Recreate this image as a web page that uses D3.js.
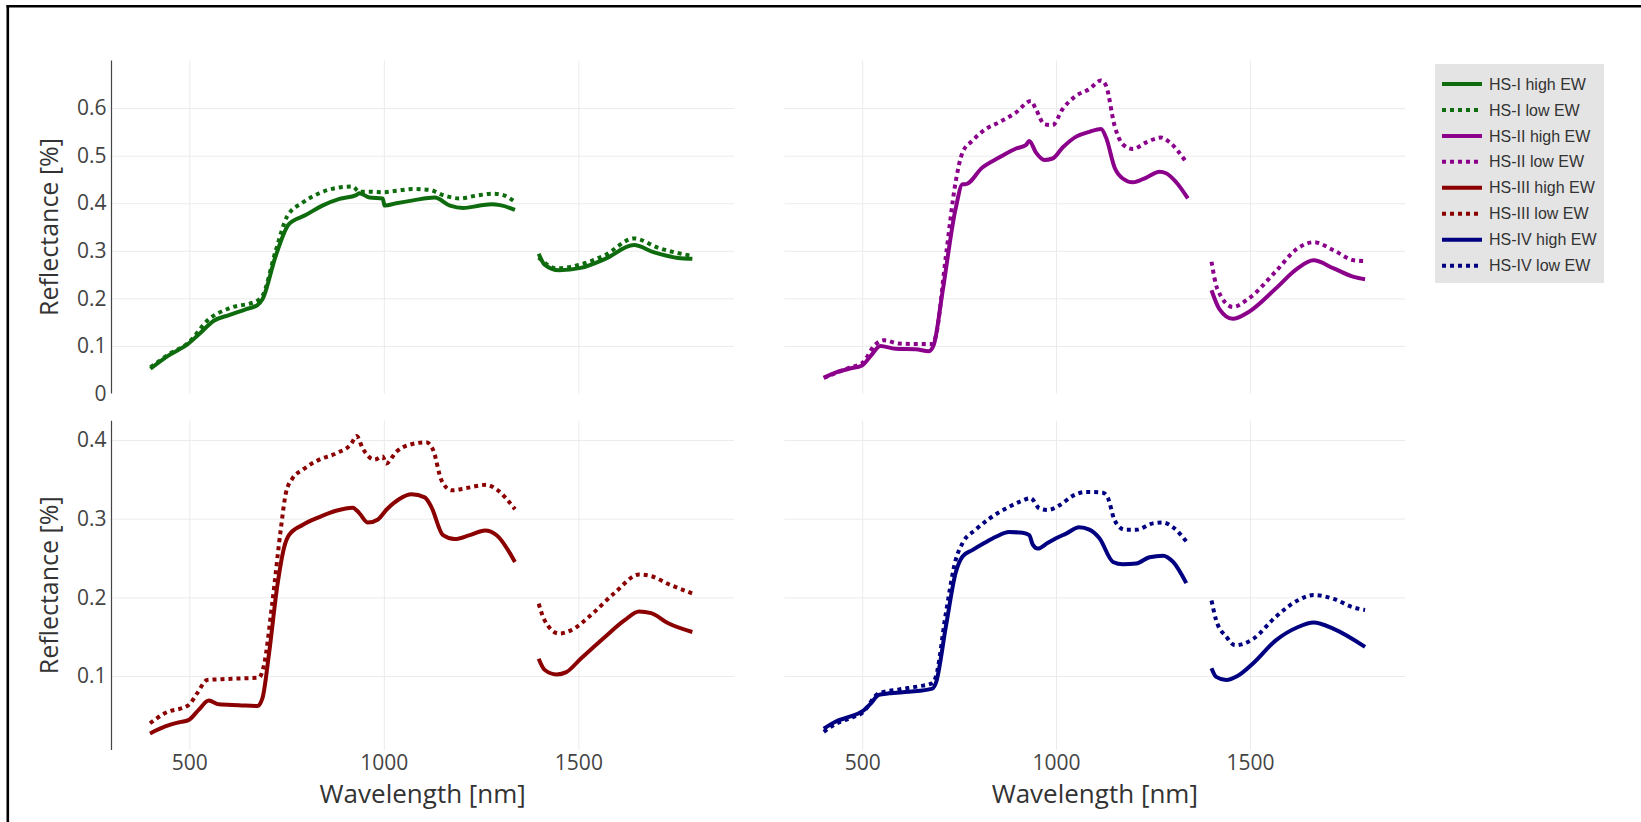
<!DOCTYPE html>
<html>
<head>
<meta charset="utf-8">
<script src="https://cdn.jsdelivr.net/npm/d3@7"></script>
<style>
  body { margin: 0; background: #fff; }
  svg { display: block; }
</style>
</head>
<body>
<div id="chart"></div>
<script>
// wavelength ticks and reflectance ticks
const xTicks = [500, 1000, 1500];
const yTicksTop = [0, 0.1, 0.2, 0.3, 0.4, 0.5, 0.6];
const yTicksBottom = [0.1, 0.2, 0.3, 0.4];

const seriesLabels = [
  'HS-I high EW', 'HS-I low EW', 'HS-II high EW', 'HS-II low EW',
  'HS-III high EW', 'HS-III low EW', 'HS-IV high EW', 'HS-IV low EW'
];
const seriesColors = ['#0e6b0e', '#0e6b0e', '#8b008b', '#8b008b', '#8b0000', '#8b0000', '#000080', '#000080'];

// [wavelength nm, reflectance]; null = water band gap
const hs1High = [
  [400, 0.052], [447, 0.080], [498, 0.105], [524, 0.124], [563, 0.153], [602, 0.165], [645, 0.177],
  [675, 0.186], [688, 0.198], [722, 0.289], [756, 0.356], [799, 0.375], [842, 0.395], [886, 0.409],
  [929, 0.417], [937, 0.421], [963, 0.412], [997, 0.410], [1002, 0.395], [1032, 0.400], [1075, 0.406],
  [1131, 0.412], [1170, 0.395], [1204, 0.390], [1247, 0.395], [1277, 0.398], [1299, 0.396], [1337, 0.386],
  [1370, null],
  [1398, 0.294], [1413, 0.271], [1450, 0.259], [1506, 0.264], [1569, 0.283], [1643, 0.312], [1693, 0.297],
  [1756, 0.285], [1793, 0.283]
];
const hs1Low = [
  [400, 0.055], [447, 0.082], [498, 0.107], [550, 0.156], [602, 0.179], [675, 0.195], [688, 0.205],
  [722, 0.300], [752, 0.373], [791, 0.401], [834, 0.421], [877, 0.432], [920, 0.435], [937, 0.424],
  [963, 0.424], [997, 0.423], [1032, 0.426], [1075, 0.430], [1118, 0.428], [1152, 0.417], [1195, 0.410],
  [1238, 0.416], [1281, 0.420], [1307, 0.417], [1337, 0.403],
  [1370, null],
  [1398, 0.286], [1444, 0.263], [1500, 0.270], [1569, 0.291], [1643, 0.326], [1706, 0.306], [1793, 0.289]
];
const hs2High = [
  [401, 0.033], [431, 0.044], [466, 0.052], [500, 0.059], [522, 0.079], [547, 0.100], [586, 0.094],
  [638, 0.093], [672, 0.089], [685, 0.103], [707, 0.212], [741, 0.388], [759, 0.440], [767, 0.440],
  [810, 0.475], [853, 0.496], [897, 0.515], [922, 0.522], [931, 0.531], [948, 0.507], [970, 0.491],
  [991, 0.494], [1017, 0.517], [1052, 0.540], [1086, 0.550], [1116, 0.556], [1129, 0.538], [1151, 0.475],
  [1172, 0.452], [1198, 0.444], [1233, 0.454], [1267, 0.466], [1284, 0.463], [1310, 0.444], [1340, 0.410],
  [1370, null],
  [1401, 0.217], [1421, 0.178], [1456, 0.157], [1496, 0.171], [1566, 0.220], [1623, 0.263], [1664, 0.280],
  [1716, 0.263], [1768, 0.245], [1797, 0.240]
];
const hs2Low = [
  [401, 0.033], [466, 0.054], [500, 0.064], [534, 0.103], [556, 0.112], [595, 0.105], [638, 0.104],
  [681, 0.104], [690, 0.121], [716, 0.289], [741, 0.444], [759, 0.507], [784, 0.531], [819, 0.556],
  [853, 0.570], [897, 0.591], [935, 0.615], [948, 0.598], [970, 0.566], [991, 0.564], [1017, 0.598],
  [1052, 0.626], [1086, 0.640], [1116, 0.658], [1129, 0.647], [1151, 0.563], [1172, 0.524], [1198, 0.514],
  [1233, 0.528], [1271, 0.538], [1293, 0.528], [1336, 0.486],
  [1370, null],
  [1401, 0.277], [1416, 0.220], [1456, 0.182], [1496, 0.199], [1566, 0.256], [1623, 0.305], [1664, 0.318],
  [1716, 0.301], [1768, 0.280], [1802, 0.278]
];
const hs3High = [
  [399, 0.027], [438, 0.036], [472, 0.041], [498, 0.044], [524, 0.057], [550, 0.069], [576, 0.064],
  [627, 0.063], [675, 0.062], [688, 0.072], [705, 0.129], [726, 0.214], [744, 0.264], [756, 0.279],
  [791, 0.292], [834, 0.302], [877, 0.310], [920, 0.314], [937, 0.307], [959, 0.295], [985, 0.299],
  [1006, 0.311], [1040, 0.325], [1071, 0.331], [1105, 0.327], [1122, 0.315], [1152, 0.279], [1182, 0.274],
  [1221, 0.279], [1260, 0.285], [1290, 0.279], [1337, 0.245],
  [1370, null],
  [1398, 0.122], [1413, 0.108], [1444, 0.102], [1469, 0.105], [1506, 0.122], [1569, 0.150], [1619, 0.171],
  [1656, 0.182], [1687, 0.180], [1731, 0.167], [1793, 0.156]
];
const hs3Low = [
  [399, 0.040], [438, 0.053], [498, 0.063], [520, 0.078], [546, 0.095], [584, 0.096], [636, 0.097],
  [679, 0.098], [692, 0.114], [713, 0.192], [735, 0.286], [748, 0.332], [765, 0.351], [791, 0.362],
  [834, 0.375], [877, 0.383], [916, 0.395], [930, 0.405], [946, 0.389], [976, 0.375], [997, 0.379],
  [1006, 0.370], [1032, 0.385], [1066, 0.394], [1109, 0.397], [1127, 0.387], [1148, 0.349], [1174, 0.336],
  [1213, 0.339], [1264, 0.343], [1290, 0.337], [1337, 0.312],
  [1370, null],
  [1398, 0.192], [1413, 0.171], [1450, 0.154], [1481, 0.158], [1531, 0.177], [1594, 0.206], [1656, 0.229],
  [1687, 0.227], [1731, 0.217], [1793, 0.205]
];
const hs4High = [
  [401, 0.033], [431, 0.042], [466, 0.048], [500, 0.055], [522, 0.065], [543, 0.076], [569, 0.078],
  [621, 0.080], [681, 0.084], [690, 0.091], [716, 0.163], [741, 0.231], [759, 0.252], [784, 0.260],
  [815, 0.269], [845, 0.277], [879, 0.283], [914, 0.282], [931, 0.279], [940, 0.267], [953, 0.262],
  [978, 0.269], [1000, 0.275], [1026, 0.281], [1060, 0.289], [1086, 0.286], [1112, 0.275], [1147, 0.245],
  [1172, 0.242], [1207, 0.243], [1241, 0.251], [1276, 0.253], [1302, 0.245], [1336, 0.218],
  [1370, null],
  [1401, 0.110], [1413, 0.099], [1439, 0.095], [1468, 0.100], [1508, 0.116], [1566, 0.145], [1623, 0.162],
  [1664, 0.168], [1716, 0.160], [1797, 0.137]
];
const hs4Low = [
  [401, 0.029], [431, 0.039], [466, 0.046], [500, 0.053], [543, 0.078], [595, 0.083], [647, 0.087],
  [681, 0.091], [690, 0.099], [716, 0.180], [741, 0.247], [759, 0.269], [793, 0.286], [828, 0.300],
  [871, 0.313], [909, 0.322], [935, 0.326], [957, 0.313], [978, 0.311], [1009, 0.317], [1043, 0.329],
  [1078, 0.334], [1121, 0.333], [1134, 0.326], [1151, 0.298], [1177, 0.286], [1207, 0.286], [1250, 0.294],
  [1276, 0.295], [1302, 0.289], [1336, 0.271],
  [1370, null],
  [1401, 0.196], [1413, 0.171], [1439, 0.150], [1462, 0.139], [1508, 0.147], [1566, 0.175], [1623, 0.196],
  [1664, 0.203], [1716, 0.198], [1768, 0.187], [1797, 0.184]
];

const allSeries = [hs1High, hs1Low, hs2High, hs2Low, hs3High, hs3Low, hs4High, hs4Low];

const W = 1641, H = 822;
const FONT = '"Open Sans", verdana, arial, sans-serif';

const svg = d3.select('#chart').append('svg').attr('width', W).attr('height', H);
svg.append('rect').attr('width', W).attr('height', H).attr('fill', '#fff');

// screenshot frame (left + top only)
svg.append('line').attr('x1', 7.8).attr('y1', 5).attr('x2', 7.8).attr('y2', H)
  .attr('stroke', '#000').attr('stroke-width', 2.6);
svg.append('line').attr('x1', 6.5).attr('y1', 6.2).attr('x2', W).attr('y2', 6.2)
  .attr('stroke', '#000').attr('stroke-width', 2.6);

const cols = [[111.5, 734], [784.6, 1405]];
const rows = [
  { range: [393.5, 60.5], domain: [0, 0.7], ticks: yTicksTop },
  { range: [750, 420.7], domain: [0.006, 0.4245], ticks: yTicksBottom }
];
const panels = [
  { r: 0, c: 0, traces: [0, 1] },
  { r: 0, c: 1, traces: [2, 3] },
  { r: 1, c: 0, traces: [4, 5] },
  { r: 1, c: 1, traces: [6, 7] }
];

const fmt = d => (d === 0 ? '0' : d3.format('.1f')(d));

panels.forEach(p => {
  const row = rows[p.r];
  const x = d3.scaleLinear().domain([300, 1900]).range(cols[p.c]);
  const y = d3.scaleLinear().domain(row.domain).range(row.range);
  const g = svg.append('g');

  // grid
  g.append('g')
    .attr('transform', `translate(0,${row.range[0]})`)
    .call(d3.axisBottom(x).tickValues(xTicks).tickSize(-(row.range[0] - row.range[1])).tickFormat(''))
    .call(a => a.select('.domain').remove())
    .call(a => a.selectAll('line').attr('stroke', '#ebebeb').attr('stroke-width', 1));
  g.append('g')
    .attr('transform', `translate(${cols[p.c][0]},0)`)
    .call(d3.axisLeft(y).tickValues(row.ticks.filter(t => t > 0)).tickSize(-(cols[p.c][1] - cols[p.c][0])).tickFormat(''))
    .call(a => a.select('.domain').remove())
    .call(a => a.selectAll('line').attr('stroke', '#ebebeb').attr('stroke-width', 1));

  if (p.c === 0) {
    g.append('line')
      .attr('x1', cols[0][0]).attr('x2', cols[0][0])
      .attr('y1', row.range[0]).attr('y2', row.range[1])
      .attr('stroke', '#444').attr('stroke-width', 1.2);
    g.append('g')
      .attr('transform', `translate(${cols[0][0]},0)`)
      .call(d3.axisLeft(y).tickValues(row.ticks).tickSize(0).tickPadding(5).tickFormat(fmt))
      .call(a => a.select('.domain').remove())
      .call(a => a.selectAll('text').attr('font-family', FONT).attr('font-size', 21).attr('fill', '#444'));
    g.append('text')
      .attr('transform', `translate(58,${(row.range[0] + row.range[1]) / 2}) rotate(-90)`)
      .attr('text-anchor', 'middle')
      .attr('font-family', FONT).attr('font-size', 25).attr('fill', '#333')
      .text('Reflectance [%]');
  }

  if (p.r === 1) {
    g.append('g')
      .attr('transform', `translate(0,${row.range[0]})`)
      .call(d3.axisBottom(x).tickValues(xTicks).tickSize(0).tickPadding(5).tickFormat(d3.format('d')))
      .call(a => a.select('.domain').remove())
      .call(a => a.selectAll('text').attr('font-family', FONT).attr('font-size', 21).attr('fill', '#444'));
    g.append('text')
      .attr('x', (cols[p.c][0] + cols[p.c][1]) / 2).attr('y', 803)
      .attr('text-anchor', 'middle')
      .attr('font-family', FONT).attr('font-size', 26).attr('fill', '#333')
      .text('Wavelength [nm]');
  }

  const line = d3.line()
    .defined(d => d[1] != null)
    .x(d => x(d[0]))
    .y(d => y(d[1]))
    .curve(d3.curveMonotoneX);

  p.traces.forEach(i => {
    g.append('path')
      .datum(allSeries[i])
      .attr('d', line)
      .attr('fill', 'none')
      .attr('stroke', seriesColors[i])
      .attr('stroke-width', 4)
      .attr('stroke-dasharray', i % 2 ? '4,4' : null)
      .attr('stroke-linejoin', 'round');
  });
});

// legend
const legendData = seriesLabels.map((label, i) => ({ label, color: seriesColors[i], dotted: i % 2 === 1 }));
const legendG = svg.append('g').attr('transform', 'translate(1435,64)');
legendG.append('rect').attr('width', 169).attr('height', 219).attr('fill', '#e4e4e4');
const item = legendG.selectAll('.legend')
  .data(legendData)
  .enter()
  .append('g')
  .attr('class', 'legend')
  .attr('transform', (d, i) => `translate(0, ${20 + i * 25.95})`);
item.append('line')
  .attr('x1', 7).attr('x2', 47).attr('y1', 0).attr('y2', 0)
  .attr('stroke', d => d.color)
  .attr('stroke-width', 4)
  .attr('stroke-dasharray', d => (d.dotted ? '4,4' : null));
item.append('text')
  .attr('x', 54).attr('y', 0).attr('dy', '0.35em')
  .attr('font-family', '"Liberation Sans", Arial, sans-serif')
  .attr('font-size', 16).attr('fill', '#333')
  .text(d => d.label);
</script>
</body>
</html>
